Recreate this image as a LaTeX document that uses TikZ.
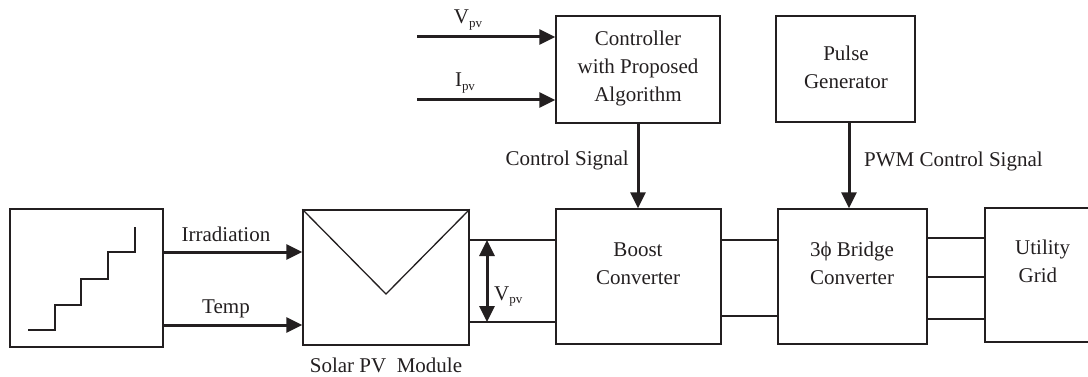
\documentclass[tikz,border=0pt]{standalone}
\usepackage{fontspec}
\setmainfont{Liberation Serif}
\usetikzlibrary{arrows.meta,calc}
\definecolor{ink}{RGB}{35,31,32}
\newcommand{\pvsub}{\raisebox{-0.35ex}{\fontsize{13}{13}\selectfont pv}}
\begin{document}
\begin{tikzpicture}[x=1pt,y=-1pt,
  box/.style={draw=ink,line width=1.4pt,inner sep=0pt},
  txt/.style={text=ink,font=\fontsize{21}{28}\selectfont,inner sep=0pt,align=center},
  arr/.style={draw=ink,line width=3pt,-{Triangle[length=16pt,width=15pt]}},
  darr/.style={draw=ink,line width=3pt,{Triangle[length=16pt,width=15pt]}-{Triangle[length=16pt,width=15pt]}},
  wire/.style={draw=ink,line width=1.3pt}]
\useasboundingbox (0,0) rectangle (1088,377);
% boxes
\node[box,minimum width=153pt,minimum height=138pt] (src) at (86.5,278) {};
\node[box,minimum width=166pt,minimum height=135pt] (pv) at (386,277.5) {};
\node[box,minimum width=165pt,minimum height=135pt] (boost) at (638.5,276.5) {};
\node[box,minimum width=149pt,minimum height=135pt] (bridge) at (852.5,276.5) {};
\node[box,minimum width=110pt,minimum height=134pt] (grid) at (1040,275) {};
\node[box,minimum width=164pt,minimum height=107pt] (ctrl) at (638,69.5) {};
\node[box,minimum width=139pt,minimum height=106pt] (pulse) at (845.5,69) {};
% staircase
\draw[wire] (28,330) -| (55,305) -| (81,279) -| (108,252) -| (135,227);
% PV symbol
\coordinate (vtip) at (386,294);
\draw[wire] (pv.north west) -- (vtip) -- (pv.north east);
% box texts
\node[txt,anchor=base] (ctrltxt) at (638,102) {Controller\\with Proposed\\Algorithm};
\node[txt,anchor=base] (pulsetxt) at (846,89) {Pulse\\Generator};
\node[txt,anchor=base] (boosttxt) at (638,284) {Boost\\Converter};
\node[txt,anchor=base] (bridgetxt) at (852,284) {3ϕ Bridge\\Converter};
\node[txt,anchor=base west,align=left] (gridtxt) at (1015,282) {Utility\\\,Grid};
% inputs
\coordinate (vin) at (417,37);
\coordinate (iin) at (417,100);
\draw[arr] (vin) -- (ctrl.west |- vin);
\draw[arr] (iin) -- (ctrl.west |- iin);
\node[txt,anchor=base] (vinl) at (468,24) {V\pvsub};
\node[txt,anchor=base] (iinl) at (465,87) {I\pvsub};
% source to PV
\draw[arr] (src.east |- 0,252) -- (pv.west |- 0,252);
\draw[arr] (src.east |- 0,325) -- (pv.west |- 0,325);
\node[txt,anchor=base] (irrl) at (226,241) {Irradiation};
\node[txt,anchor=base] (templ) at (226,313) {Temp};
\node[txt,anchor=base] (pvl) at (386,372) {Solar PV\ \ Module};
% PV to boost
\draw[wire] (pv.east |- 0,240) -- (boost.west |- 0,240);
\draw[wire] (pv.east |- 0,322) -- (boost.west |- 0,322);
\coordinate (vt) at (487,240);
\coordinate (vb) at (487,322);
\draw[darr] (vt) -- (vb);
\node[txt,anchor=base west] (vpvl) at (494,300) {V\pvsub};
% boost to bridge
\draw[wire] (boost.east |- 0,240) -- (bridge.west |- 0,240);
\draw[wire] (boost.east |- 0,316) -- (bridge.west |- 0,316);
% bridge to grid
\draw[wire] (bridge.east |- 0,238) -- (grid.west |- 0,238);
\draw[wire] (bridge.east |- 0,277) -- (grid.west |- 0,277);
\draw[wire] (bridge.east |- 0,319) -- (grid.west |- 0,319);
% control arrows
\draw[arr] (ctrl.south) -- (ctrl.south |- boost.north);
\node[txt,anchor=base east] (csl) at (629,166) {Control Signal};
\coordinate (pwmtop) at (849,122);
\draw[arr] (pwmtop) -- (pwmtop |- bridge.north);
\node[txt,anchor=base west] (pwml) at (864,167) {PWM Control Signal};
\end{tikzpicture}
\end{document}
